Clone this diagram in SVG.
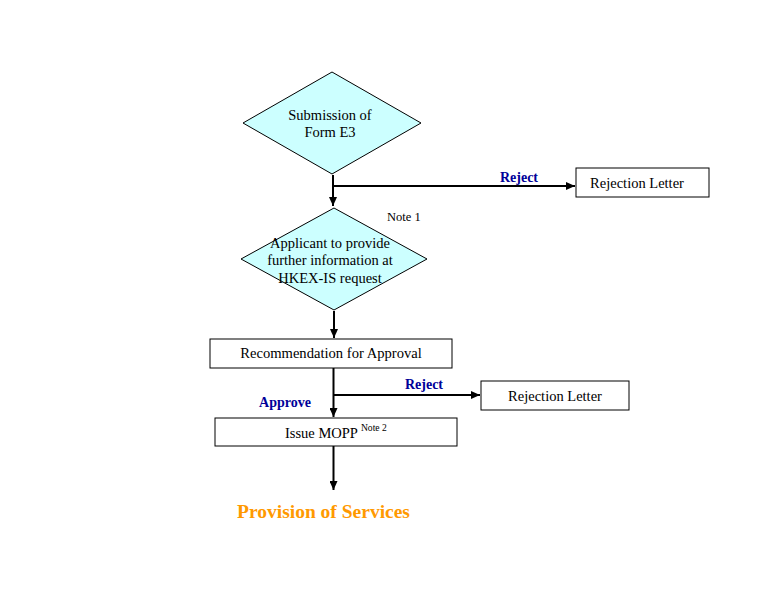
<svg xmlns="http://www.w3.org/2000/svg" width="766" height="615" viewBox="0 0 766 615">
<style>
.t{font-family:"Liberation Serif","Times New Roman",serif;fill:#000}
.lbl{font-family:"Liberation Serif","Times New Roman",serif;font-weight:bold;fill:#000099;font-size:14px}
.dia{fill:#CCFFFF;stroke:#000;stroke-width:1}
.box{fill:#fff;stroke:#000;stroke-width:1}
.con{stroke:#000;stroke-width:2;fill:none}
</style>
<defs>
<marker id="ah" viewBox="0 0 10 10" refX="10" refY="5" markerWidth="4.5" markerHeight="4" markerUnits="strokeWidth" orient="auto" preserveAspectRatio="none">
<path d="M0,0 L10,5 L0,10 Z" fill="#000"/>
</marker>
</defs>
<rect width="766" height="615" fill="#fff"/>
<g id="connectors">
<line class="con" x1="333" y1="175" x2="333" y2="206" marker-end="url(#ah)"/>
<line class="con" x1="333" y1="186" x2="575" y2="186" marker-end="url(#ah)"/>
<line class="con" x1="334" y1="311" x2="334" y2="338" marker-end="url(#ah)"/>
<line class="con" x1="333.5" y1="368" x2="333.5" y2="417" marker-end="url(#ah)"/>
<line class="con" x1="333.5" y1="395" x2="480" y2="395" marker-end="url(#ah)"/>
<line class="con" x1="333.5" y1="446" x2="333.5" y2="490" marker-end="url(#ah)"/>
<text class="lbl" x="519" y="182" text-anchor="middle">Reject</text>
<text class="lbl" x="424" y="389" text-anchor="middle">Reject</text>
<text class="lbl" x="285" y="407" text-anchor="middle">Approve</text>
</g>
<g id="submission">
<polygon class="dia" points="332,72 421,123 332,174 243,123"/>
<text class="t" font-size="14.5" x="330" y="120" text-anchor="middle">Submission of</text>
<text class="t" font-size="14.5" x="330" y="137" text-anchor="middle">Form E3</text>
</g>
<g id="rejection1">
<rect class="box" x="576" y="168" width="133" height="29"/>
<text class="t" font-size="14.5" x="637" y="188" text-anchor="middle">Rejection Letter</text>
</g>
<g id="applicant">
<polygon class="dia" points="334,208 427,259 334,310 241,259"/>
<text class="t" font-size="14.5" x="330" y="248" text-anchor="middle">Applicant to provide</text>
<text class="t" font-size="14.5" x="330" y="265" text-anchor="middle">further information at</text>
<text class="t" font-size="14.5" x="330" y="283" text-anchor="middle">HKEX-IS request</text>
<text class="t" font-size="12.5" x="387" y="221">Note 1</text>
</g>
<g id="recommendation">
<rect class="box" x="210" y="339" width="242" height="29"/>
<text class="t" font-size="14.6" x="331" y="358" text-anchor="middle">Recommendation for Approval</text>
</g>
<g id="rejection2">
<rect class="box" x="481" y="381" width="148" height="29"/>
<text class="t" font-size="14.5" x="555" y="401" text-anchor="middle">Rejection Letter</text>
</g>
<g id="issue">
<rect class="box" x="215" y="418" width="242" height="28"/>
<text class="t" font-size="14.5" x="285" y="438">Issue MOPP<tspan font-size="9.6" dx="3" dy="-7">Note 2</tspan></text>
</g>
<g id="provision">
<text x="237" y="518" font-family="Liberation Serif,Times New Roman,serif" font-weight="bold" font-size="19.5" fill="#FF9900">Provision of Services</text>
</g>
</svg>
